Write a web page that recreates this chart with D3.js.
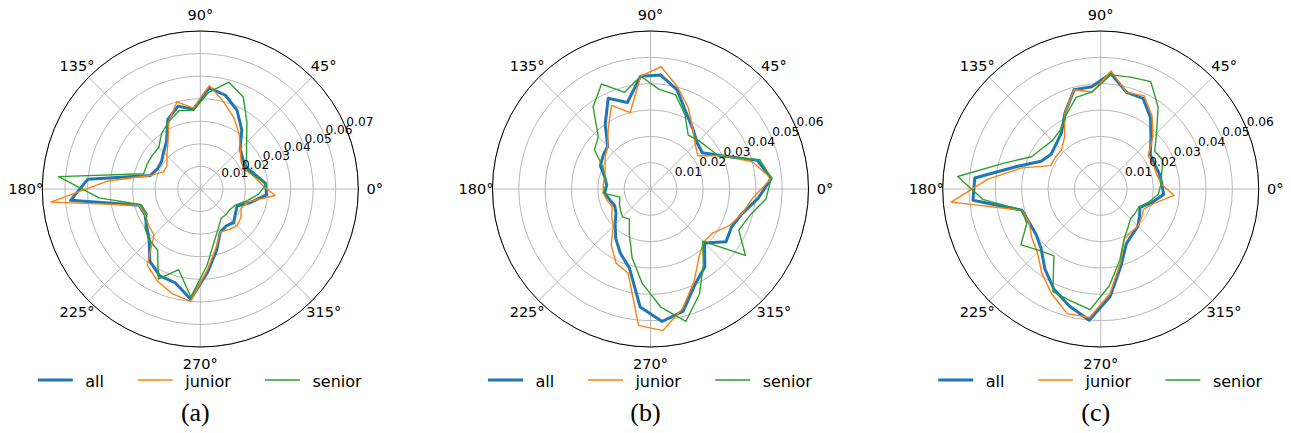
<!DOCTYPE html>
<html>
<head>
<meta charset="utf-8">
<script src="https://cdn.jsdelivr.net/npm/d3@7"></script>
<style>
  html, body { margin: 0; padding: 0; background: #fff; }
  svg { display: block; }
  text { font-family: "DejaVu Sans", sans-serif; fill: #000; }
</style>
</head>
<body>
<svg id="chart" width="1291" height="433"></svg>
<script>
// bin centres in degrees
const angles = [5, 15, 25, 35, 45, 55, 65, 75, 85, 95, 105, 115, 125, 135, 145, 155, 165, 175,
                185, 195, 205, 215, 225, 235, 245, 255, 265, 275, 285, 295, 305, 315, 325, 335, 345, 355];
const angleTicks = [0, 45, 90, 135, 180, 225, 270, 315];
const seriesNames = ['all', 'junior', 'senior'];
const captions = ['(a)', '(b)', '(c)'];
const rMaxes = [0.07, 0.06, 0.06];
const rTicksA = [0.01, 0.02, 0.03, 0.04, 0.05, 0.06, 0.07];
const rTicksB = [0.01, 0.02, 0.03, 0.04, 0.05, 0.06];
const rTicksC = [0.01, 0.02, 0.03, 0.04, 0.05, 0.06];

// panel (a)
const allA = [0.029, 0.025, 0.0225, 0.023, 0.025, 0.032, 0.0385, 0.043, 0.045, 0.0354, 0.038, 0.034,
              0.026, 0.023, 0.021, 0.021, 0.023, 0.050, 0.0577, 0.028, 0.027, 0.029, 0.032, 0.039,
              0.0425, 0.043, 0.049, 0.037, 0.028, 0.021, 0.020, 0.021, 0.019, 0.018, 0.023, 0.0295];
const juniorA = [0.027, 0.024, 0.021, 0.022, 0.025, 0.030, 0.035, 0.040, 0.046, 0.036, 0.040, 0.033,
                 0.025, 0.021, 0.018, 0.018, 0.023, 0.041, 0.0665, 0.028, 0.027, 0.028, 0.029, 0.041,
                 0.045, 0.048, 0.050, 0.036, 0.027, 0.021, 0.022, 0.023, 0.022, 0.020, 0.022, 0.0332];
const seniorA = [0.0295, 0.024, 0.022, 0.025, 0.029, 0.036, 0.045, 0.049, 0.043, 0.035, 0.036, 0.033,
                 0.030, 0.026, 0.026, 0.026, 0.026, 0.063, 0.045, 0.027, 0.026, 0.030, 0.032, 0.033,
                 0.044, 0.037, 0.048, 0.034, 0.024, 0.019, 0.016, 0.016, 0.016, 0.017, 0.021, 0.026];

// panel (b)
const allB = [0.046, 0.042, 0.030, 0.024, 0.025, 0.028, 0.032, 0.039, 0.0435, 0.043, 0.034, 0.038,
              0.030, 0.023, 0.022, 0.021, 0.018, 0.0167, 0.0175, 0.016, 0.015, 0.016, 0.019, 0.023,
              0.027, 0.031, 0.045, 0.0505, 0.048, 0.040, 0.036, 0.029, 0.035, 0.034, 0.036, 0.041];
const juniorB = [0.046, 0.040, 0.030, 0.022, 0.024, 0.028, 0.034, 0.040, 0.0466, 0.043, 0.030, 0.035,
                 0.028, 0.023, 0.021, 0.019, 0.018, 0.018, 0.018, 0.017, 0.016, 0.018, 0.020, 0.026,
                 0.031, 0.033, 0.052, 0.054, 0.047, 0.039, 0.032, 0.0285, 0.029, 0.033, 0.036, 0.039];
const seniorB = [0.046, 0.043, 0.029, 0.027, 0.026, 0.025, 0.031, 0.037, 0.038, 0.043, 0.038, 0.044,
                 0.038, 0.028, 0.026, 0.020, 0.018, 0.017, 0.018, 0.012, 0.013, 0.014, 0.015, 0.014,
                 0.019, 0.027, 0.036, 0.045, 0.052, 0.044, 0.035, 0.028, 0.044, 0.037, 0.039, 0.044];

// panel (c)
const allC = [0.0233, 0.023, 0.0225, 0.023, 0.027, 0.033, 0.038, 0.038, 0.044, 0.039, 0.039, 0.032,
              0.026, 0.024, 0.023, 0.025, 0.033, 0.048, 0.0487, 0.031, 0.030, 0.030, 0.032, 0.037,
              0.042, 0.046, 0.050, 0.041, 0.030, 0.023, 0.021, 0.020, 0.018, 0.0165, 0.020, 0.024];
const juniorC = [0.023, 0.022, 0.022, 0.022, 0.028, 0.034, 0.039, 0.038, 0.045, 0.037, 0.039, 0.032,
                 0.024, 0.021, 0.021, 0.021, 0.031, 0.043, 0.057, 0.031, 0.030, 0.032, 0.034, 0.039,
                 0.044, 0.049, 0.049, 0.040, 0.029, 0.021, 0.020, 0.020, 0.019, 0.018, 0.021, 0.028];
const seniorC = [0.023, 0.024, 0.026, 0.025, 0.030, 0.038, 0.045, 0.044, 0.0435, 0.037, 0.036, 0.031,
                 0.027, 0.026, 0.027, 0.029, 0.038, 0.0545, 0.045, 0.031, 0.031, 0.037, 0.033, 0.031,
                 0.043, 0.044, 0.046, 0.037, 0.028, 0.021, 0.018, 0.016, 0.016, 0.016, 0.019, 0.022];

const panels = [
    {caption: captions[0], rMax: rMaxes[0], ticks: rTicksA, series: [allA, juniorA, seniorA]},
    {caption: captions[1], rMax: rMaxes[1], ticks: rTicksB, series: [allB, juniorB, seniorB]},
    {caption: captions[2], rMax: rMaxes[2], ticks: rTicksC, series: [allC, juniorC, seniorC]}
];

const colors = ['#1f77b4', '#ff7f0e', '#2ca02c'];
const widths = [3, 1.4, 1.4];
const outerR = 158;
const labelR = 174.5;
const rad = deg => deg * Math.PI / 180;

// legend layout, relative to the panel centre
const legendLineX = [-162.5, -62.6, 64.7];
const legendLineLen = 35;
const legendY = 192.5;

const svg = d3.select('#chart');

panels.forEach((p, i) => {
    const cx = 200.3 + 450.2 * i;
    const cy = 189;
    const g = svg.append('g').attr('transform', `translate(${cx},${cy})`);
    const r = d3.scaleLinear().domain([0, p.rMax]).range([0, outerR]);

    // radial grid
    g.selectAll('.ring')
        .data(p.ticks)
        .join('circle')
        .attr('class', 'ring')
        .attr('r', d => r(d))
        .attr('fill', 'none')
        .attr('stroke', '#b0b0b0')
        .attr('stroke-width', 0.9);

    g.selectAll('.spoke')
        .data(angleTicks)
        .join('line')
        .attr('class', 'spoke')
        .attr('x1', 0).attr('y1', 0)
        .attr('x2', d => outerR * Math.cos(rad(d)))
        .attr('y2', d => -outerR * Math.sin(rad(d)))
        .attr('stroke', '#b0b0b0')
        .attr('stroke-width', 0.9);

    // data lines (matplotlib angles: 0 at east, counter-clockwise)
    const line = d3.lineRadial()
        .angle((d, k) => rad(90 - angles[k]))
        .radius(d => r(d))
        .curve(d3.curveLinearClosed);

    p.series.forEach((vals, s) => {
        g.append('path')
            .attr('d', line(vals))
            .attr('fill', 'none')
            .attr('stroke', colors[s])
            .attr('stroke-width', widths[s])
            .attr('stroke-linejoin', 'round');
    });

    // outer spine
    g.append('circle')
        .attr('r', outerR)
        .attr('fill', 'none')
        .attr('stroke', '#000')
        .attr('stroke-width', 1);

    // radial tick labels at 22.5 degrees
    g.selectAll('.rlabel')
        .data(p.ticks)
        .join('text')
        .attr('class', 'rlabel')
        .attr('x', d => r(d) * Math.cos(rad(22.5)))
        .attr('y', d => -r(d) * Math.sin(rad(22.5)) - 3)
        .attr('text-anchor', 'start')
        .style('font-size', '12.2px')
        .text(d => d3.format('.2f')(d));

    // angular tick labels
    g.selectAll('.alabel')
        .data(angleTicks)
        .join('text')
        .attr('class', 'alabel')
        .attr('x', d => labelR * Math.cos(rad(d)))
        .attr('y', d => -labelR * Math.sin(rad(d)))
        .attr('text-anchor', 'middle')
        .attr('dominant-baseline', 'central')
        .style('font-size', '14.5px')
        .text(d => `${d}°`);

    // legend
    const leg = g.append('g').attr('transform', `translate(0,${legendY})`);
    seriesNames.forEach((name, s) => {
        leg.append('line')
            .attr('x1', legendLineX[s])
            .attr('x2', legendLineX[s] + legendLineLen)
            .attr('y1', -1.5).attr('y2', -1.5)
            .attr('stroke', colors[s])
            .attr('stroke-width', widths[s]);
        leg.append('text')
            .attr('x', legendLineX[s] + legendLineLen + 12.5)
            .attr('y', 0)
            .attr('dominant-baseline', 'central')
            .style('font-size', '16px')
            .text(name);
    });

    // caption
    g.append('text')
        .attr('x', -5)
        .attr('y', 232)
        .attr('text-anchor', 'middle')
        .style('font-family', '"Liberation Serif", "Times New Roman", serif')
        .style('font-size', '26px')
        .text(p.caption);
});
</script>
</body>
</html>
